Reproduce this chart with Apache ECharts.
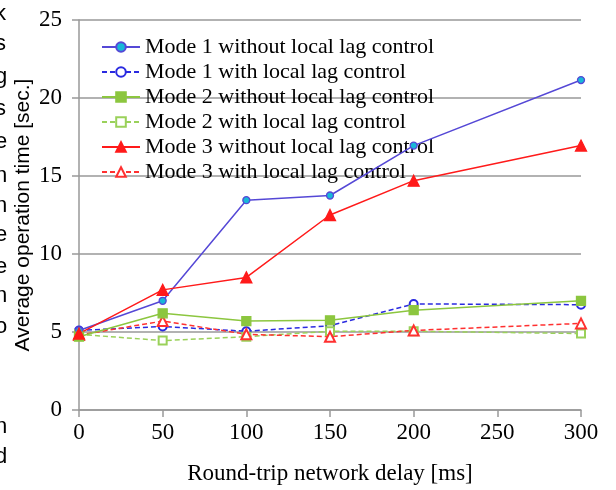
<!DOCTYPE html>
<html>
<head>
<meta charset="utf-8">
<script src="https://cdn.jsdelivr.net/npm/echarts@6/dist/echarts.min.js"></script>
<style>
  html, body { margin: 0; padding: 0; background: #fff; }
  #chart { width: 616px; height: 490px; }
</style>
</head>
<body>
<div id="chart"></div>
<script>
// 数据
let delays = [0, 50, 100, 150, 200, 300],
    mode1Without = [5.1, 7.0, 13.45, 13.75, 16.95, 21.15],
    mode1With = [5.1, 5.35, 5.05, 5.4, 6.8, 6.75],
    mode2Without = [4.7, 6.2, 5.7, 5.75, 6.4, 7.0],
    mode2With = [4.85, 4.45, 4.7, 5.05, 5.05, 4.9],
    mode3Without = [4.9, 7.7, 8.5, 12.5, 14.7, 16.95],
    mode3With = [4.8, 5.7, 4.85, 4.7, 5.1, 5.55],
    seriesNames = [
        'Mode 1 without local lag control',
        'Mode 1 with local lag control',
        'Mode 2 without local lag control',
        'Mode 2 with local lag control',
        'Mode 3 without local lag control',
        'Mode 3 with local lag control'
    ],
    // 左侧被裁掉的正文字母
    edgeLetters = ['k', 's', 'g', 's', 'e', 'n', 'n', 'e', 'e', 'n', 'o', 'i', 'n', 'd'],
    edgeLetterY = [15, 45, 78, 110, 143, 177, 207, 236, 268, 297, 328, 400, 428, 458];

function pairs(values) {
    return delays.map(function (d, i) { return [d, values[i]]; });
}

let myChart = echarts.init(document.getElementById('chart'));

let serif = 'Liberation Serif';

function makeSeries(name, values, color, dashed, symbol, size, fill) {
    return {
        name: name,
        type: 'line',
        data: pairs(values),
        symbol: symbol,
        symbolSize: size,
        lineStyle: { color: color, width: 1.5, type: dashed ? [5, 3] : 'solid' },
        itemStyle: fill ? { color: fill, borderColor: color, borderWidth: 1.3 } : { color: color, borderWidth: 1.5 },
        z: dashed ? 3 : 4
    };
}

let option = {
    animation: false,
    backgroundColor: '#fff',
    grid: { left: 79, right: 35, top: 20, bottom: 78 },
    legend: {
        orient: 'vertical',
        left: 96,
        top: 31,
        itemWidth: 38,
        itemHeight: 12,
        itemGap: 3,
        textStyle: { fontFamily: serif, fontSize: 22, color: '#000' },
        data: seriesNames
    },
    xAxis: {
        type: 'value',
        min: 0,
        max: 300,
        interval: 50,
        name: 'Round-trip network delay [ms]',
        nameLocation: 'middle',
        nameGap: 52,
        nameTextStyle: { fontFamily: serif, fontSize: 23, color: '#000' },
        axisLine: { lineStyle: { color: '#999', width: 1.5 } },
        axisTick: { show: true, length: 7, lineStyle: { color: '#999', width: 1.5 } },
        axisLabel: { fontFamily: serif, fontSize: 23, color: '#000', margin: 11 },
        splitLine: { show: false }
    },
    yAxis: {
        type: 'value',
        min: 0,
        max: 25,
        interval: 5,
        name: 'Average operation time [sec.]',
        nameLocation: 'middle',
        nameGap: 45,
        nameMoveOverlap: false,
        nameRotate: 90,
        nameTextStyle: { fontFamily: 'Liberation Sans', fontSize: 21, color: '#000' },
        axisLine: { show: true, lineStyle: { color: '#999', width: 1.5 } },
        axisTick: { show: true, length: 7, lineStyle: { color: '#999', width: 1.5 } },
        axisLabel: { fontFamily: serif, fontSize: 23, color: '#000', margin: 17 },
        splitLine: { show: true, lineStyle: { color: '#999', width: 1.5 } }
    },
    graphic: edgeLetters.map(function (ch, i) {
        return {
            type: 'text',
            left: -5,
            top: edgeLetterY[i] - 12,
            style: { text: ch, font: '22px "Liberation Sans"', fill: '#000' }
        };
    }),
    series: [
        makeSeries(seriesNames[0], mode1Without, '#5548d6', false, 'circle', 7, '#18b8d8'),
        makeSeries(seriesNames[1], mode1With, '#2a2ae0', true, 'emptyCircle', 8),
        makeSeries(seriesNames[2], mode2Without, '#8cc63f', false, 'rect', 9, '#8cc63f'),
        makeSeries(seriesNames[3], mode2With, '#9ad15a', true, 'emptyRect', 8),
        makeSeries(seriesNames[4], mode3Without, '#ff1a1a', false, 'triangle', 11, '#ff1a1a'),
        makeSeries(seriesNames[5], mode3With, '#ff3030', true, 'emptyTriangle', 10)
    ]
};

myChart.setOption(option);
</script>
</body>
</html>
